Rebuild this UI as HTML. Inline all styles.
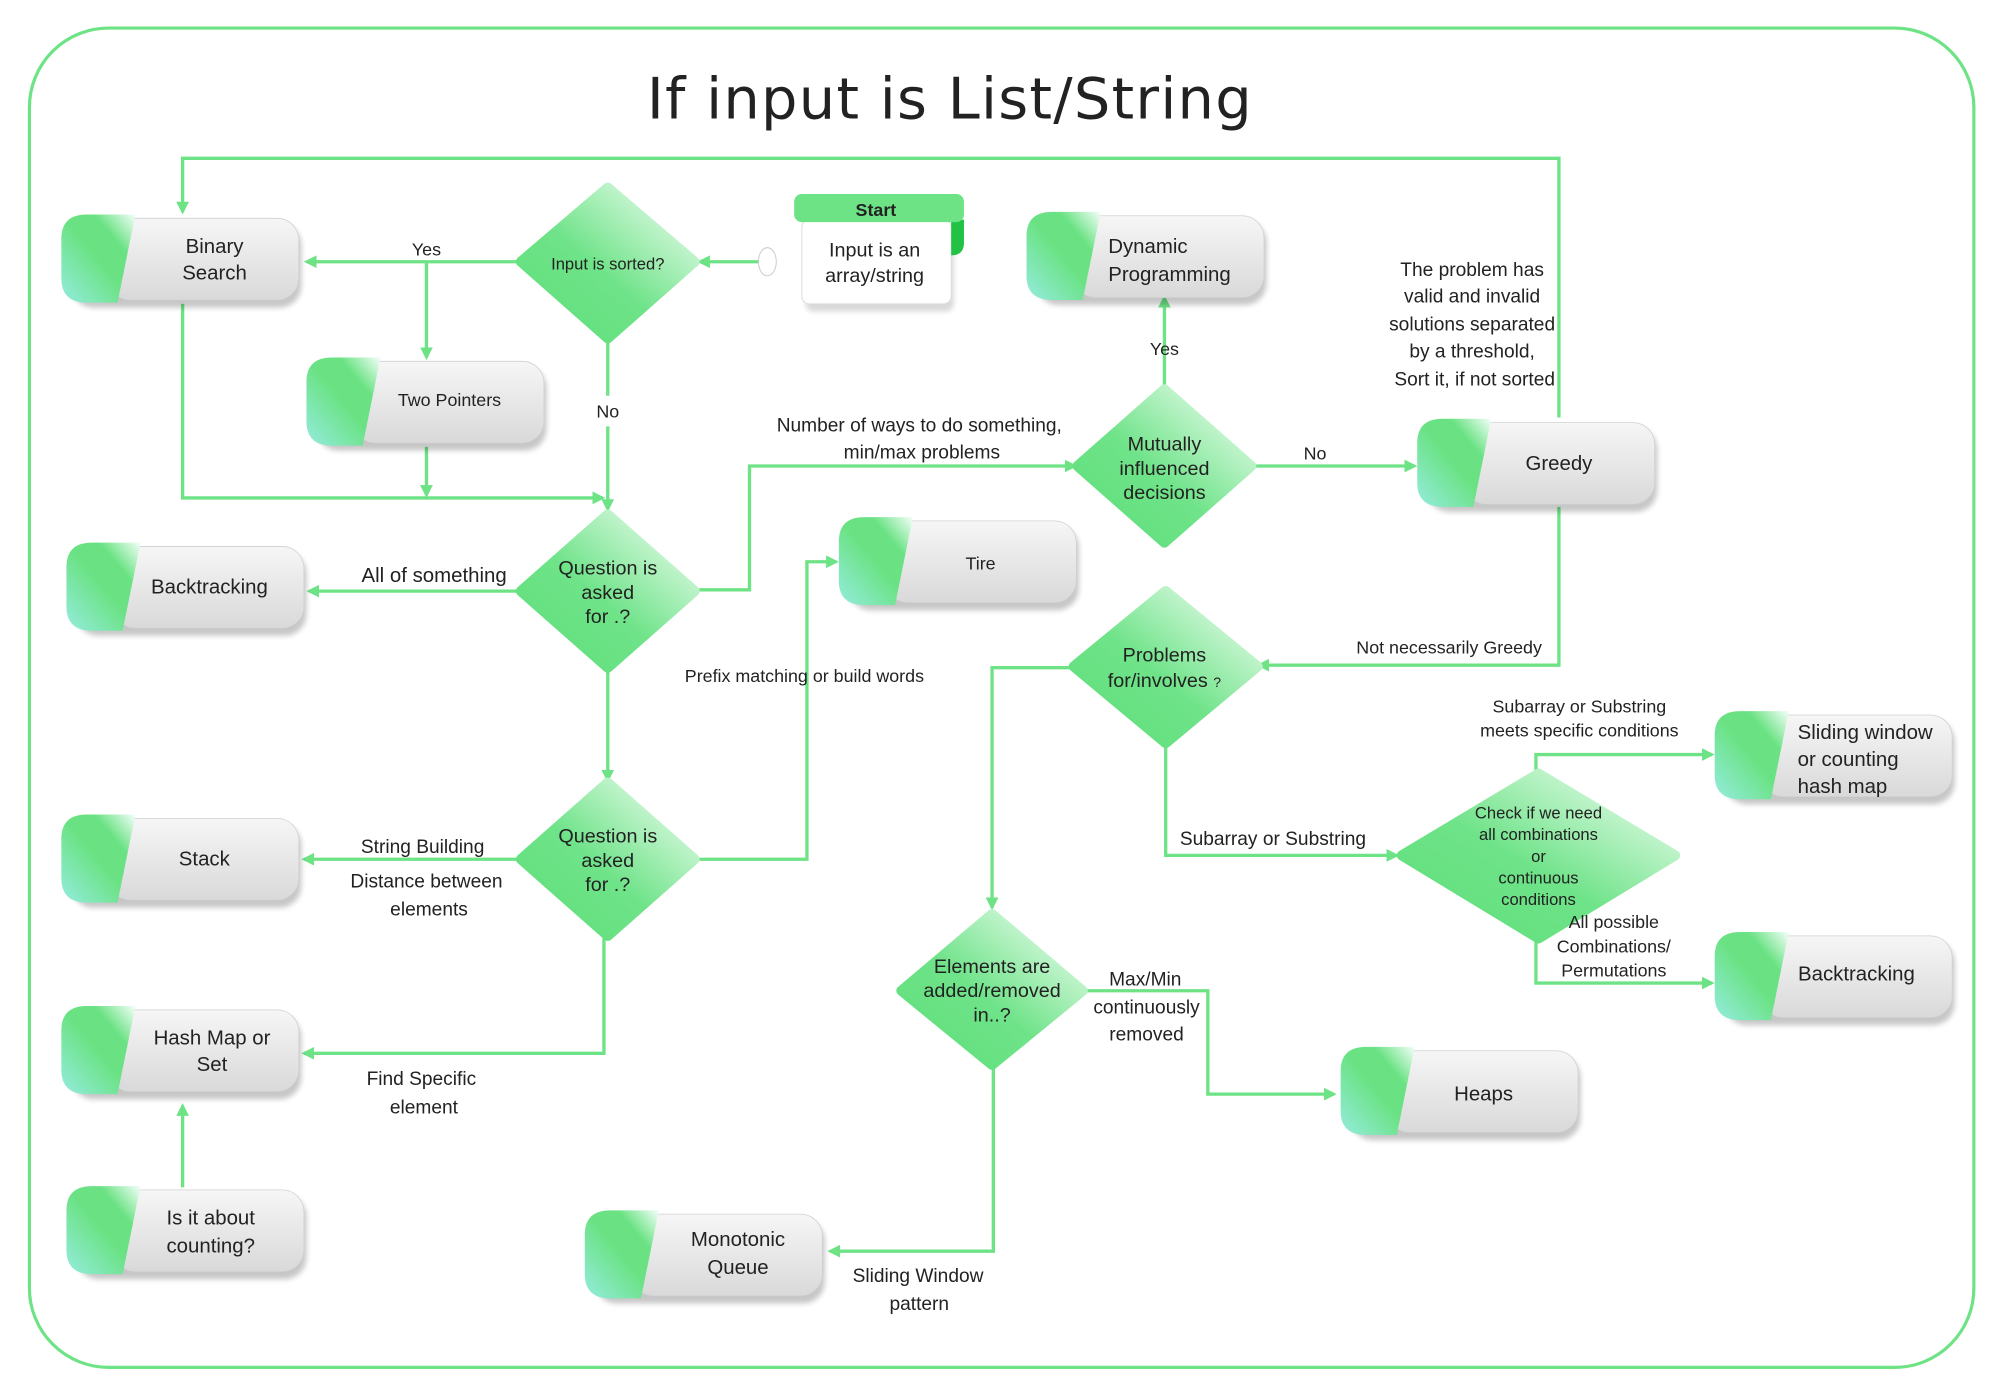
<!DOCTYPE html>
<html><head><meta charset="utf-8"><style>
html,body{margin:0;padding:0;background:#fff}
svg{display:block}
text{font-family:"Liberation Sans",sans-serif;fill:#222}
</style></head><body>
<svg width="2002" height="1398" viewBox="0 0 1568 1095" xmlns="http://www.w3.org/2000/svg">
<defs>
<linearGradient id="gg" x1="0" y1="0" x2="0" y2="1"><stop offset="0" stop-color="#f6f6f6"/><stop offset="1" stop-color="#d9d9d9"/></linearGradient>
<linearGradient id="gn" x1="0" y1="1" x2="1" y2="0"><stop offset="0" stop-color="#95ecdf"/><stop offset=".5" stop-color="#6ae283"/><stop offset=".72" stop-color="#6ae283"/><stop offset="1" stop-color="#f4fffa"/></linearGradient>
<linearGradient id="gd" x1="0" y1="1" x2="1" y2="0"><stop offset="0" stop-color="#5ddf79"/><stop offset=".45" stop-color="#6fe389"/><stop offset="1" stop-color="#f7fff8"/></linearGradient>
<filter id="sh" x="-10%" y="-10%" width="130%" height="140%"><feGaussianBlur stdDeviation="2"/></filter>
<marker id="ar" markerWidth="10" markerHeight="10" refX="8" refY="5" orient="auto" markerUnits="userSpaceOnUse"><path d="M0,0 L10,5 L0,10 Z" fill="#6ee386"/></marker>
<symbol id="nd" viewBox="0 0 190 76" width="190" height="76" overflow="visible">
<rect x="8" y="7" width="180" height="66" rx="17" fill="#000" opacity=".22" filter="url(#sh)"/>
<rect x="37" y="3" width="149" height="64" rx="17" fill="url(#gg)" stroke="#d0d0d0" stroke-width=".6"/>
<path d="M20,0 L58,0 L44,69 L20,69 Q0,69 0,50 L0,19 Q0,0 20,0Z" fill="url(#gn)"/>
</symbol>
</defs>
<rect width="1568" height="1095" fill="#fff"/>
<rect x="23" y="22" width="1523" height="1049" rx="62" fill="none" stroke="#6ee386" stroke-width="2.5"/>
<text x="744" y="93" text-anchor="middle" font-size="45" style="font-family:'DejaVu Sans',sans-serif;letter-spacing:1px" fill="#111">If input is List/String</text>

<g fill="none" stroke="#6ee386" stroke-width="2.6">
<path d="M1221,327 V124 H143 V166" marker-end="url(#ar)"/>
<path d="M143,238 V390 H472" marker-end="url(#ar)"/>
<path d="M334,350 V388" marker-end="url(#ar)"/>
<path d="M406,205 H240" marker-end="url(#ar)"/>
<path d="M334,205 V280" marker-end="url(#ar)"/>
<path d="M600,205 H548" marker-end="url(#ar)"/>
<path d="M476,266 V310 M476,334 V399" marker-end="url(#ar)"/>
<path d="M406,463 H242" marker-end="url(#ar)"/>
<path d="M546,462 H587 V365 H842" marker-end="url(#ar)"/>
<path d="M476,525 V611" marker-end="url(#ar)"/>
<path d="M406,673 H238" marker-end="url(#ar)"/>
<path d="M546,673 H632 V440 H655" marker-end="url(#ar)"/>
<path d="M473,735 V825 H238" marker-end="url(#ar)"/>
<path d="M143,930 V866" marker-end="url(#ar)"/>
<path d="M912,303 V233" marker-end="url(#ar)"/>
<path d="M982,365 H1108" marker-end="url(#ar)"/>
<path d="M1221,397 V521 H986" marker-end="url(#ar)"/>
<path d="M838,523 H777 V711" marker-end="url(#ar)"/>
<path d="M913,584 V670 H1094" marker-end="url(#ar)"/>
<path d="M1203,603 V591 H1341" marker-end="url(#ar)"/>
<path d="M1203,737 V770 H1341" marker-end="url(#ar)"/>
<path d="M850,776 H946 V857 H1045" marker-end="url(#ar)"/>
<path d="M778,837 V980 H650" marker-end="url(#ar)"/>
</g>
<path d="M600,205 m-6,0 a7,11 0 1,1 14,0 a7,11 0 1,1 -14,0" fill="#fff" stroke="#ccc" stroke-width=".8"/>

<rect x="631" y="178" width="116" height="66" rx="6" fill="#000" opacity=".15" filter="url(#sh)"/>
<rect x="628" y="172" width="117" height="66" rx="6" fill="#fff" stroke="#ddd" stroke-width=".8"/>
<path d="M745,172 h10 v18 q0,10 -10,10z" fill="#22c244"/>
<rect x="622" y="152" width="133" height="22" rx="6" fill="#6ee386"/>
<text x="686" y="169" text-anchor="middle" font-size="14" font-weight="bold">Start</text>
<text x="685" y="201" text-anchor="middle" font-size="15.5" fill="#555">Input is an</text>
<text x="685" y="221" text-anchor="middle" font-size="15.5" fill="#555">array/string</text>

<use href="#nd" x="48" y="168"/><text x="168" y="198" text-anchor="middle" font-size="16">Binary</text><text x="168" y="219" text-anchor="middle" font-size="16">Search</text>
<use href="#nd" x="240" y="280"/><text x="352" y="318" text-anchor="middle" font-size="14">Two Pointers</text>
<use href="#nd" x="52" y="425"/><text x="164" y="465" text-anchor="middle" font-size="16">Backtracking</text>
<use href="#nd" x="48" y="638"/><text x="160" y="678" text-anchor="middle" font-size="16">Stack</text>
<use href="#nd" x="48" y="788"/><text x="166" y="818" text-anchor="middle" font-size="16">Hash Map or</text><text x="166" y="839" text-anchor="middle" font-size="16">Set</text>
<use href="#nd" x="52" y="929"/><text x="165" y="959" text-anchor="middle" font-size="16">Is it about</text><text x="165" y="981" text-anchor="middle" font-size="16">counting?</text>
<use href="#nd" x="458" y="948"/><text x="578" y="976" text-anchor="middle" font-size="16">Monotonic</text><text x="578" y="998" text-anchor="middle" font-size="16">Queue</text>
<use href="#nd" x="657" y="405"/><text x="768" y="446" text-anchor="middle" font-size="14">Tire</text>
<use href="#nd" x="804" y="166"/><text x="868" y="198" font-size="16">Dynamic</text><text x="868" y="220" font-size="16">Programming</text>
<use href="#nd" x="1110" y="328"/><text x="1221" y="368" text-anchor="middle" font-size="16">Greedy</text>
<use href="#nd" x="1343" y="557"/><text x="1408" y="579" font-size="16">Sliding window</text><text x="1408" y="600" font-size="16">or counting</text><text x="1408" y="621" font-size="16">hash map</text>
<use href="#nd" x="1343" y="730"/><text x="1454" y="768" text-anchor="middle" font-size="16">Backtracking</text>
<use href="#nd" x="1050" y="820"/><text x="1162" y="862" text-anchor="middle" font-size="16">Heaps</text>

<g fill="url(#gd)" stroke-linejoin="round">
<path d="M476,147 L544,205 L476,265 L408,205Z" stroke="url(#gd)" stroke-width="8"/>
<path d="M476,403 L544,463 L476,523 L408,463Z" stroke="url(#gd)" stroke-width="8"/>
<path d="M476,613 L544,673 L476,733 L408,673Z" stroke="url(#gd)" stroke-width="8"/>
<path d="M912,305 L980,365 L912,425 L844,365Z" stroke="url(#gd)" stroke-width="8"/>
<path d="M913,463 L985,522 L913,582 L841,522Z" stroke="url(#gd)" stroke-width="8"/>
<path d="M1205,606 L1312,670 L1205,735 L1098,670Z" stroke="url(#gd)" stroke-width="8"/>
<path d="M777,716 L848,776 L777,834 L706,776Z" stroke="url(#gd)" stroke-width="8"/>
</g>
<text x="476" y="211" text-anchor="middle" font-size="13">Input is sorted?</text>
<text x="476" y="450" text-anchor="middle" font-size="15.5">Question is</text><text x="476" y="469" text-anchor="middle" font-size="15.5">asked</text><text x="476" y="488" text-anchor="middle" font-size="15.5">for .?</text>
<text x="476" y="660" text-anchor="middle" font-size="15.5">Question is</text><text x="476" y="679" text-anchor="middle" font-size="15.5">asked</text><text x="476" y="698" text-anchor="middle" font-size="15.5">for .?</text>
<text x="912" y="353" text-anchor="middle" font-size="15.5">Mutually</text><text x="912" y="372" text-anchor="middle" font-size="15.5">influenced</text><text x="912" y="391" text-anchor="middle" font-size="15.5">decisions</text>
<text x="912" y="518" text-anchor="middle" font-size="15.5">Problems</text><text x="912" y="538" text-anchor="middle" font-size="15.5">for/involves <tspan font-size="11">?</tspan></text>
<g font-size="13" text-anchor="middle"><text x="1205" y="641">Check if we need</text><text x="1205" y="658">all combinations</text><text x="1205" y="675">or</text><text x="1205" y="692">continuous</text><text x="1205" y="709">conditions</text></g>
<g font-size="15.5" text-anchor="middle"><text x="777" y="762">Elements are</text><text x="777" y="781">added/removed</text><text x="777" y="800">in..?</text></g>

<g font-size="15" text-anchor="middle">
<text x="334" y="200" font-size="14">Yes</text>
<text x="476" y="327" font-size="14">No</text>
<text x="340" y="456" font-size="16">All of something</text>
<text x="720" y="338">Number of ways to do something,</text>
<text x="722" y="359">min/max problems</text>
<text x="331" y="668">String Building</text>
<text x="334" y="695">Distance between</text>
<text x="336" y="717">elements</text>
<text x="630" y="534" font-size="14">Prefix matching or build words</text>
<text x="330" y="850">Find Specific</text>
<text x="332" y="872">element</text>
<text x="912" y="278" font-size="14">Yes</text>
<text x="1030" y="360" font-size="14">No</text>
<text x="1153" y="216">The problem has</text>
<text x="1153" y="237">valid and invalid</text>
<text x="1153" y="259">solutions separated</text>
<text x="1153" y="280">by a threshold,</text>
<text x="1155" y="302">Sort it, if not sorted</text>
<text x="1135" y="512" font-size="14">Not necessarily Greedy</text>
<text x="997" y="662">Subarray or Substring</text>
<text x="1237" y="558" font-size="14">Subarray or Substring</text>
<text x="1237" y="577" font-size="14">meets specific conditions</text>
<text x="1264" y="727" font-size="14">All possible</text>
<text x="1264" y="746" font-size="14">Combinations/</text>
<text x="1264" y="765" font-size="14">Permutations</text>
<text x="897" y="772">Max/Min</text>
<text x="898" y="794">continuously</text>
<text x="898" y="815">removed</text>
<text x="719" y="1004">Sliding Window</text>
<text x="720" y="1026">pattern</text>
</g>
</svg>
</body></html>
